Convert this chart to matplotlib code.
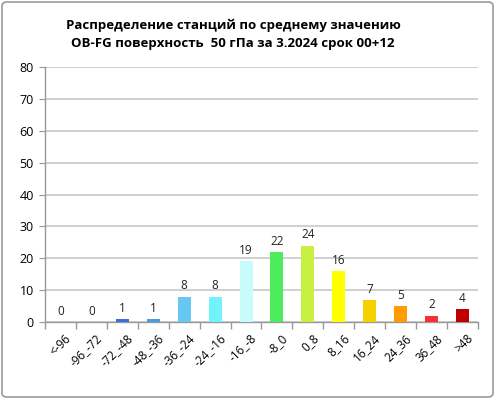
import matplotlib
matplotlib.use("Agg")
import matplotlib.pyplot as plt
from matplotlib.patches import FancyBboxPatch
import numpy as np

categories = ["<-96", "-96_-72", "-72_-48", "-48_-36", "-36_-24", "-24_-16", "-16_-8",
              "-8_0", "0_8", "8_16", "16_24", "24_36", "36_48", ">48"]
values = [0, 0, 1, 1, 8, 8, 19, 22, 24, 16, 7, 5, 2, 4]
colors = ["#3a6fd8", "#3a6fd8", "#3a6fd8", "#4a9ae4", "#66c8f2", "#72f2fa", "#c8fcfc",
          "#4cec5a", "#c8f040", "#ffff00", "#f8d000", "#ff9c00", "#f83030", "#c00000"]
title = "Распределение станций по среднему значению\nOB-FG поверхность  50 гПа за 3.2024 срок 00+12"

plt.rcParams['font.family'] = ['Open Sans', 'DejaVu Sans']

fig = plt.figure(figsize=(4.96, 3.99), dpi=100)
ax = fig.add_axes([45/496, 1-322/399, (478-45)/496, (322-67)/399])

x = np.arange(len(categories))
bars = ax.bar(x, values, width=0.42, color=colors, zorder=3)
for xi, v in zip(x, values):
    ax.text(xi, v + 1.3, str(v), ha='center', va='bottom', fontsize=8.5, color='#222222')

ax.set_xlim(-0.5, len(categories) - 0.5)
ax.set_ylim(0, 80)
ax.set_yticks(range(0, 81, 10))
ax.yaxis.grid(True, color='#c8c8c8', linewidth=1.2, zorder=0)
ax.set_xticks(x + 0.12)
ax.set_xticklabels(categories, rotation=45, ha='right', rotation_mode='anchor', fontsize=8.5)
ax.tick_params(axis='x', length=0, pad=7)
ax.set_xticks(np.arange(-0.5, len(categories), 1), minor=True)
ax.tick_params(axis='x', which='minor', length=5, color='#999999', width=1)
ax.tick_params(axis='y', length=4, color='#999999', labelsize=9, pad=4)
for s in ['top', 'right']:
    ax.spines[s].set_visible(False)
for s in ['left', 'bottom']:
    ax.spines[s].set_color('#999999')
    ax.spines[s].set_linewidth(1)

fig.text(233/496, 1-34/399, title, ha='center', va='center', fontsize=9.5,
         fontweight='bold', linespacing=1.5)

border = FancyBboxPatch((0.004, 0.005), 0.99, 0.99, boxstyle="round,pad=0,rounding_size=0.01",
                        transform=fig.transFigure, fill=False, edgecolor='#9a9a9a', linewidth=1.2)
fig.patches.append(border)

fig.savefig("out.png", dpi=100)
